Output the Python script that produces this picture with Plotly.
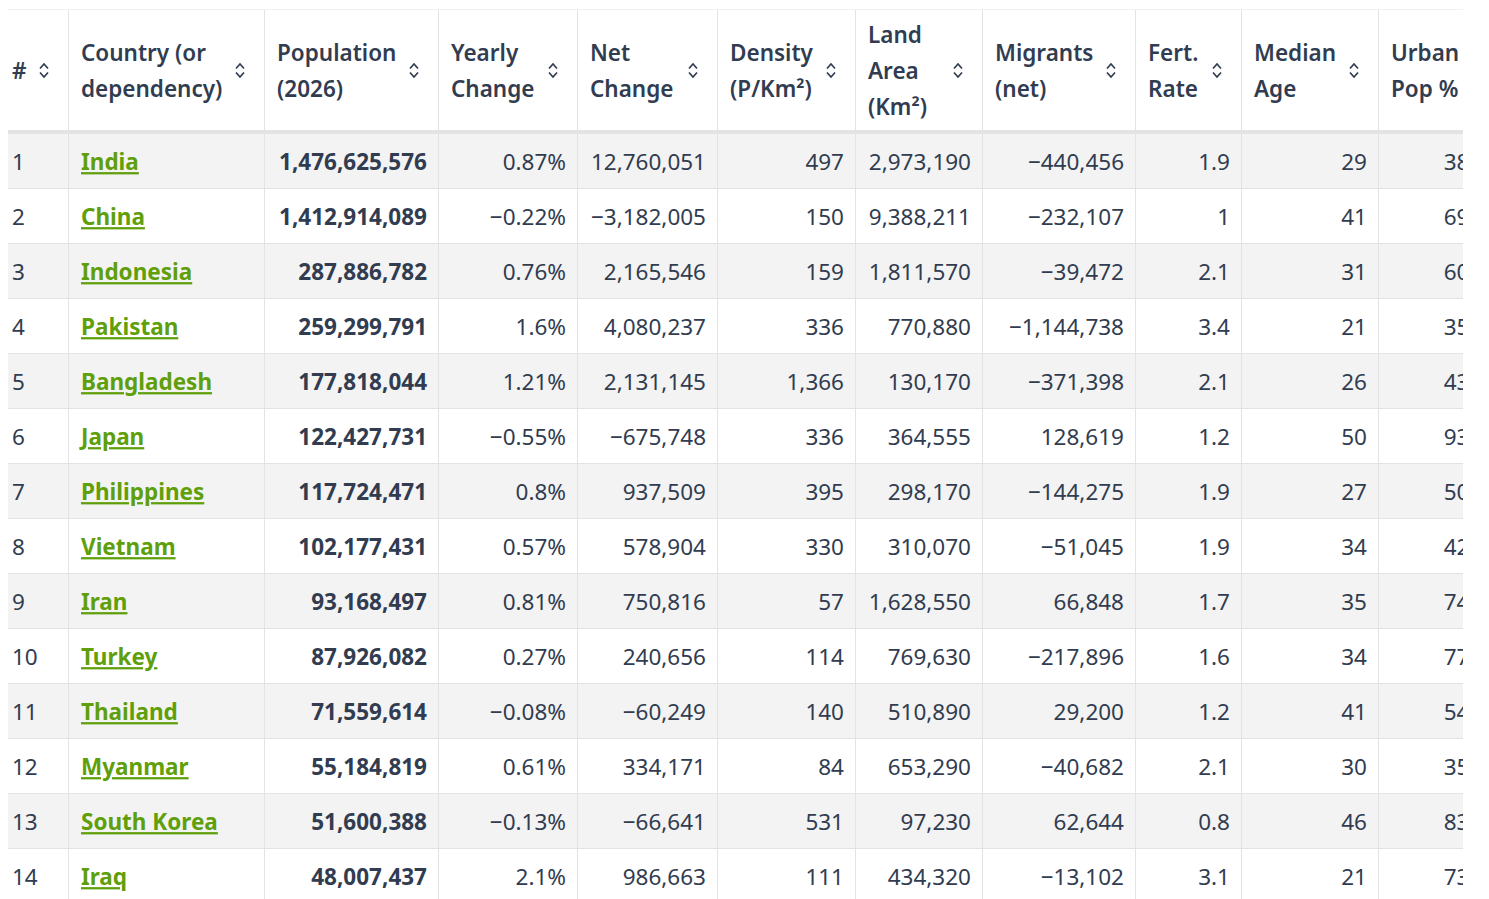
import plotly.graph_objects as go

# Table data
ranks = list(range(1, 15))
countries = ['India', 'China', 'Indonesia', 'Pakistan', 'Bangladesh', 'Japan',
             'Philippines', 'Vietnam', 'Iran', 'Turkey', 'Thailand', 'Myanmar',
             'South Korea', 'Iraq']
population = [1476625576, 1412914089, 287886782, 259299791, 177818044,
              122427731, 117724471, 102177431, 93168497, 87926082, 71559614,
              55184819, 51600388, 48007437]
yearly_change = [0.87, -0.22, 0.76, 1.6, 1.21, -0.55, 0.8, 0.57, 0.81, 0.27,
                 -0.08, 0.61, -0.13, 2.1]
net_change = [12760051, -3182005, 2165546, 4080237, 2131145, -675748, 937509,
              578904, 750816, 240656, -60249, 334171, -66641, 986663]
density = [497, 150, 159, 336, 1366, 336, 395, 330, 57, 114, 140, 84, 531, 111]
land_area = [2973190, 9388211, 1811570, 770880, 130170, 364555, 298170,
             310070, 1628550, 769630, 510890, 653290, 97230, 434320]
migrants = [-440456, -232107, -39472, -1144738, -371398, 128619, -144275,
            -51045, 66848, -217896, 29200, -40682, 62644, -13102]
fert_rate = [1.9, 1, 2.1, 3.4, 2.1, 1.2, 1.9, 1.9, 1.7, 1.6, 1.2, 2.1, 0.8, 3.1]
median_age = [29, 41, 31, 21, 26, 50, 27, 34, 35, 34, 41, 30, 46, 21]
urban_pop = [38, 69, 60, 35, 43, 93, 50, 42, 74, 77, 54, 35, 83, 73]

headers = ['#', 'Country (or<br>dependency)', 'Population<br>(2026)',
           'Yearly<br>Change', 'Net<br>Change', 'Density<br>(P/Km²)',
           'Land<br>Area<br>(Km²)', 'Migrants<br>(net)', 'Fert.<br>Rate',
           'Median<br>Age', 'Urban<br>Pop %']

TEXT = '#313c50'
GREEN = '#5f9f0a'
GRID = '#e3e3e3'
STRIPE = '#f3f3f3'
FONT = 'Noto Sans'
SIZE = 22.5

# page geometry (pixels); the page body adds an 8px margin
col_px = [69, 196, 174, 139, 140, 138, 127, 153, 106, 137, 127]
VIEW_RIGHT = 1463
HEADER_TOP, HEADER_BOTTOM, RULE_BOTTOM, ROW_H = 10, 131, 134, 55
PAD = 12
TEXT_DY = 3  # text 'middle' sits a little high

col_edges = [0]
for w in col_px:
    col_edges.append(col_edges[-1] + w)
row_edges = [HEADER_TOP, HEADER_BOTTOM, RULE_BOTTOM]
for _ in ranks:
    row_edges.append(row_edges[-1] + ROW_H)
row_mid = [(row_edges[i + 2] + row_edges[i + 3]) / 2 + TEXT_DY
           for i in range(len(ranks))]
header_mid = (HEADER_TOP + HEADER_BOTTOM) / 2


def num(v):
    return f'{v:,}'.replace('-', '−')


def dec(v, suffix=''):
    return f'{v:g}{suffix}'.replace('-', '−')


columns = [
    ([str(r) for r in ranks], 'left', TEXT),
    ([f'<b><u>{c}</u></b>' for c in countries], 'left', GREEN),
    ([f'<b>{num(p)}</b>' for p in population], 'right', TEXT),
    ([dec(v, '%') for v in yearly_change], 'right', TEXT),
    ([num(v) for v in net_change], 'right', TEXT),
    ([num(v) for v in density], 'right', TEXT),
    ([num(v) for v in land_area], 'right', TEXT),
    ([num(v) for v in migrants], 'right', TEXT),
    ([dec(v) for v in fert_rate], 'right', TEXT),
    ([str(v) for v in median_age], 'right', TEXT),
    ([f'{v} %' for v in urban_pop], 'right', TEXT),
]

fig = go.Figure()

# cell fills: header, header rule, striped body rows
z = [[0] * len(col_px), [2] * len(col_px)]
z += [[1 if i % 2 == 0 else 0] * len(col_px) for i in range(len(ranks))]
fig.add_trace(go.Heatmap(
    x=col_edges, y=row_edges, z=z, zmin=0, zmax=2, xgap=1, ygap=1,
    colorscale=[[0, 'white'], [0.5, STRIPE], [1, GRID]],
    showscale=False, hoverinfo='skip'))

# header labels, one line per text so the line spacing matches
for c, head in enumerate(headers):
    lines = head.split('<br>')
    n = len(lines)
    fig.add_trace(go.Scatter(
        x=[col_edges[c] + PAD] * n,
        y=[header_mid + TEXT_DY + (k - (n - 1) / 2) * 36 for k in range(n)],
        text=lines, mode='text', textposition='middle right',
        textfont=dict(family=FONT, size=SIZE, color=TEXT, weight=600),
        hoverinfo='skip', showlegend=False))

# sort icons: a small up/down chevron pair near each header's right edge
icon_x, icon_y = [], []
for c in range(len(col_px) - 1):
    cx = col_edges[c + 1] - 25
    for tip, base in ((header_mid - 6.5, header_mid - 2),
                      (header_mid + 6.5, header_mid + 2)):
        icon_x += [cx - 4, cx, cx + 4, None]
        icon_y += [base, tip, base, None]
fig.add_trace(go.Scatter(
    x=icon_x, y=icon_y, mode='lines', line=dict(color=TEXT, width=1.7),
    hoverinfo='skip', showlegend=False))

# body cells
for c, (values, align, color) in enumerate(columns):
    if align == 'left':
        x, pos = col_edges[c] + PAD, 'middle right'
    else:
        x, pos = col_edges[c + 1] - PAD, 'middle left'
    fig.add_trace(go.Scatter(
        x=[x] * len(values), y=row_mid, text=values, mode='text',
        textposition=pos, textfont=dict(family=FONT, size=SIZE, color=color),
        hoverinfo='skip', showlegend=False))

# grid lines show through the gaps between the fills
fig.add_shape(type='rect', xref='x', yref='y', x0=0, x1=col_edges[-1],
              y0=HEADER_TOP - 0.5, y1=row_edges[-1], fillcolor=GRID,
              line_width=0, layer='below')

W, H = 1473, 891
fig.update_layout(
    width=W, height=H, margin=dict(l=0, r=8 + W - VIEW_RIGHT, t=0, b=0),
    paper_bgcolor='white', plot_bgcolor='white', showlegend=False,
    xaxis=dict(range=[8, VIEW_RIGHT], visible=False, fixedrange=True),
    yaxis=dict(range=[8 + H, 8], visible=False, fixedrange=True))
fig.write_html('out.html', config={'displayModeBar': False})
